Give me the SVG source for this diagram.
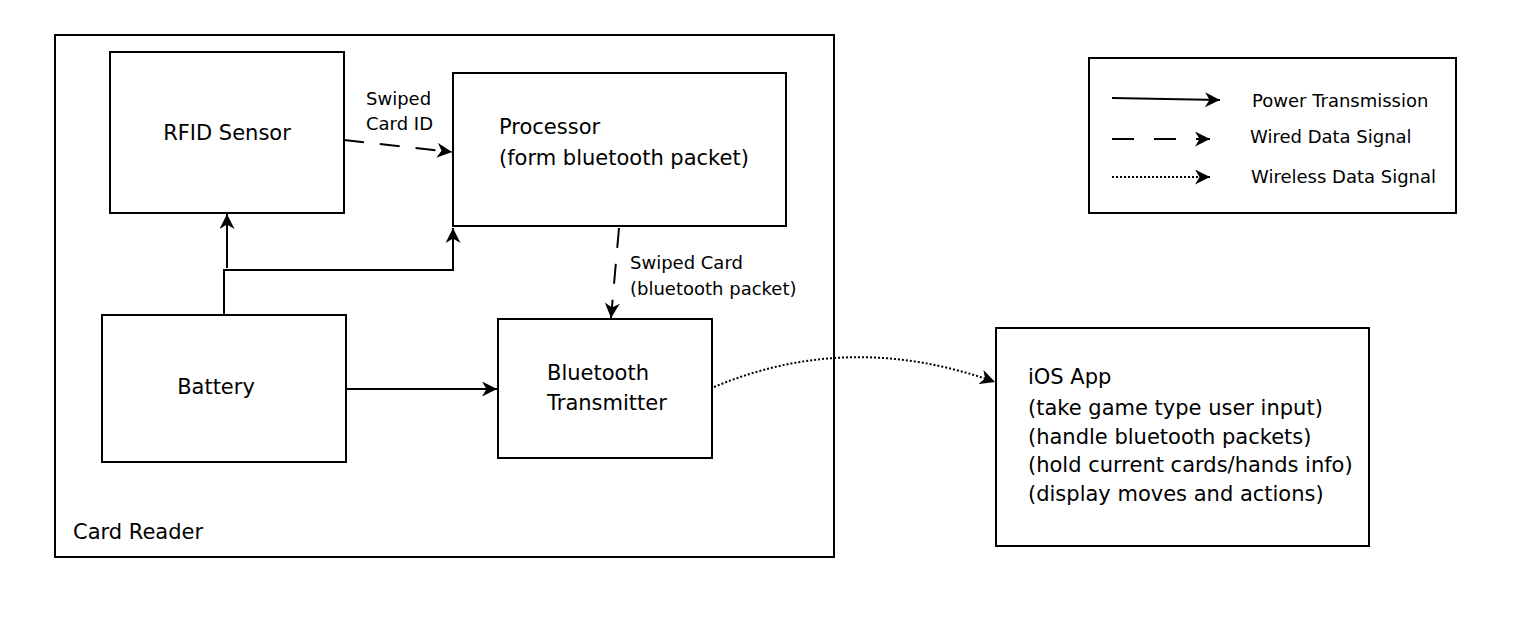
<svg xmlns="http://www.w3.org/2000/svg" width="1530" height="624" viewBox="0 0 1530 624">
<style>
.box{fill:#fff;stroke:#000;stroke-width:2}
.t{font-family:"DejaVu Sans",sans-serif;font-size:21px;fill:#000}
.s{font-family:"DejaVu Sans",sans-serif;font-size:18px;fill:#000}
.ln{fill:none;stroke:#000;stroke-width:2}
.dash{stroke-dasharray:22 20}
.dot{stroke-dasharray:2 2}
</style>
<defs>
<marker id="ah2" viewBox="0 0 10 10" refX="10" refY="5" markerWidth="15" markerHeight="15" markerUnits="userSpaceOnUse" orient="auto">
<path d="M0,0 L10,5 L0,10 L3,5 Z" fill="#000"/>
</marker>
</defs>
<rect width="1530" height="624" fill="#fff"/>
<g id="card-reader">
<rect class="box" x="55" y="35" width="779" height="522"/>
<text class="t" x="73" y="539">Card Reader</text>
</g>
<g id="rfid">
<rect class="box" x="110" y="52" width="234" height="161"/>
<text class="t" x="227" y="140" text-anchor="middle">RFID Sensor</text>
</g>
<g id="processor">
<rect class="box" x="453" y="73" width="333" height="153"/>
<text class="t" x="499" y="134">Processor</text>
<text class="t" x="499" y="165">(form bluetooth packet)</text>
</g>
<g id="battery">
<rect class="box" x="102" y="315" width="244" height="147"/>
<text class="t" x="216" y="394" text-anchor="middle">Battery</text>
</g>
<g id="bluetooth">
<rect class="box" x="498" y="319" width="214" height="139"/>
<text class="t" x="547" y="380">Bluetooth</text>
<text class="t" x="547" y="410">Transmitter</text>
</g>
<g id="ios">
<rect class="box" x="996" y="328" width="373" height="218"/>
<text class="t" x="1028" y="384">iOS App</text>
<text class="t" x="1028" y="415">(take game type user input)</text>
<text class="t" x="1028" y="444">(handle bluetooth packets)</text>
<text class="t" x="1028" y="472">(hold current cards/hands info)</text>
<text class="t" x="1028" y="501">(display moves and actions)</text>
</g>
<g id="legend">
<rect class="box" x="1089" y="58" width="367" height="155"/>
<line class="ln" x1="1112" y1="98" x2="1220" y2="100" marker-end="url(#ah2)"/>
<line class="ln dash" x1="1112" y1="139" x2="1210" y2="139" marker-end="url(#ah2)"/>
<line class="ln dot" x1="1112" y1="177" x2="1210" y2="177" marker-end="url(#ah2)"/>
<text class="s" x="1252" y="107">Power Transmission</text>
<text class="s" x="1250" y="143">Wired Data Signal</text>
<text class="s" x="1251" y="183">Wireless Data Signal</text>
</g>
<g id="connectors">
<line class="ln" x1="344" y1="140" x2="452" y2="152" marker-end="url(#ah2)" style="stroke-dasharray:20 16"/>
<line class="ln" x1="619" y1="228" x2="611" y2="318" marker-end="url(#ah2)" style="stroke-dasharray:20 16"/>
<polyline class="ln" points="224,315 224,270 453,270 453,228" marker-end="url(#ah2)"/>
<line class="ln" x1="227" y1="268" x2="227" y2="214" marker-end="url(#ah2)"/>
<line class="ln" x1="346" y1="389" x2="497" y2="389" marker-end="url(#ah2)"/>
<path class="ln dot" d="M714,387 Q850,330 995,382" marker-end="url(#ah2)"/>
<text class="s" x="366" y="105">Swiped</text>
<text class="s" x="366" y="130">Card ID</text>
<text class="s" x="630" y="269">Swiped Card</text>
<text class="s" x="630" y="295">(bluetooth packet)</text>
</g>
</svg>
